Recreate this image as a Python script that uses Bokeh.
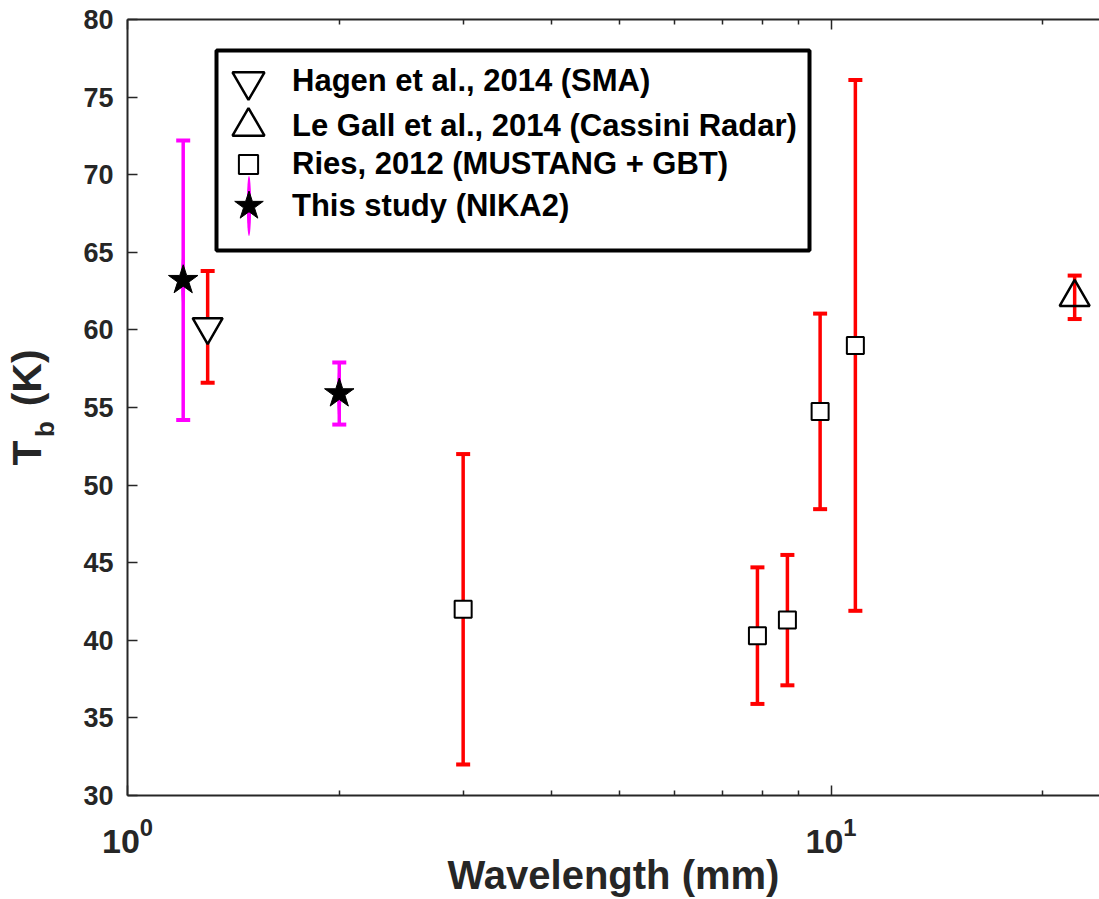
import math
from bokeh.plotting import figure
from bokeh.models import (FixedTicker, LogAxis, LinearAxis, Whisker, TeeHead, ColumnDataSource,
                          Legend, LegendItem, Range1d, BoxAnnotation)
from bokeh.embed import file_html
from bokeh.resources import INLINE

# ---------------- data ----------------
nika_wl = [1.2, 2.0]
nika_tb = [63.2, 55.9]
nika_err = [9.0, 2.0]

hagen_wl = [1.3]
hagen_tb = [60.2]
hagen_err = [3.6]

legall_wl = [22.2]
legall_tb = [62.1]
legall_err = [1.4]

ries_wl = [3.0, 7.86, 8.67, 9.65, 10.83]
ries_tb = [42.0, 40.3, 41.3, 54.75, 59.0]
ries_err = [10.0, 4.4, 4.2, 6.3, 17.1]

legend_labels = ["Hagen et al., 2014 (SMA)",
                 "Le Gall et al., 2014 (Cassini Radar)",
                 "Ries, 2012 (MUSTANG + GBT)",
                 "This study (NIKA2)"]

x_major_ticks = [1, 10]
x_minor_ticks = [2, 3, 4, 5, 6, 7, 8, 9, 20]
y_ticks = [30, 35, 40, 45, 50, 55, 60, 65, 70, 75, 80]

FONT = "Liberation Sans"
AX = "#262626"
NB = "\u00a0"

p = figure(width=1099, height=899, x_axis_type="log",
           x_range=Range1d(1, 24.08), y_range=Range1d(30, 80),
           output_backend="svg", toolbar_location=None,
           min_border_left=125, min_border_right=0,
           min_border_top=19, min_border_bottom=104)
p.outline_line_color = None
p.grid.visible = False
p.background_fill_color = "white"
p.border_fill_color = "white"

# axes
xa = p.xaxis[0]
xa.ticker = FixedTicker(ticks=x_major_ticks, minor_ticks=x_minor_ticks)
ya = p.yaxis[0]
ya.ticker = FixedTicker(ticks=y_ticks, minor_ticks=[])
for ax in (xa, ya):
    ax.axis_line_color = AX
    ax.axis_line_width = 2
    ax.major_tick_line_color = AX
    ax.minor_tick_line_color = AX
    ax.major_tick_line_width = 1.5
    ax.minor_tick_line_width = 1.5
    ax.major_tick_in = 10
    ax.major_tick_out = 0
    ax.minor_tick_in = 5
    ax.minor_tick_out = 0
    ax.major_label_text_font = FONT
    ax.major_label_text_font_style = "bold"
    ax.major_label_text_color = AX
    ax.axis_label_text_font = FONT
    ax.axis_label_text_font_style = "bold"
    ax.axis_label_text_color = AX
ya.major_label_text_font_size = "27px"
xa.major_label_text_font_size = "34px"
xa.major_label_standoff = 22
ya.major_label_standoff = 14

xa.axis_label = "Wavelength (mm)"
xa.axis_label_text_font_size = "40px"
xa.axis_label_standoff = -3

# subscript "b" of the y title sits closest to the axis
ya.axis_label = "b" + NB * 6
ya.axis_label_text_font_size = "26px"
ya.axis_label_standoff = 20

# outer holder for "T ... (K)"
ty = LinearAxis(ticker=FixedTicker(ticks=[], minor_ticks=[]),
                axis_line_color=None, major_tick_line_color=None,
                minor_tick_line_color=None, major_label_standoff=0,
                axis_label="T" + NB * 3 + "(K)", axis_label_standoff=-22,
                axis_label_text_font=FONT, axis_label_text_font_style="bold",
                axis_label_text_font_size="41px", axis_label_text_color=AX)
p.add_layout(ty, "left")

top = LogAxis(ticker=FixedTicker(ticks=x_major_ticks, minor_ticks=x_minor_ticks),
              major_label_overrides={1: "", 10: ""},
              major_label_text_font_size="1px", major_label_standoff=0,
              major_tick_in=10, major_tick_out=0, minor_tick_in=5, minor_tick_out=0,
              axis_line_color=AX, axis_line_width=2,
              major_tick_line_color=AX, minor_tick_line_color=AX,
              major_tick_line_width=1.5, minor_tick_line_width=1.5)
p.add_layout(top, "above")

# error bars
def add_errors(wl, tb, err, color):
    src = ColumnDataSource(dict(x=wl,
                                lower=[t - e for t, e in zip(tb, err)],
                                upper=[t + e for t, e in zip(tb, err)]))
    w = Whisker(base="x", lower="lower", upper="upper", source=src, dimension="height",
                line_color=color, line_width=3.5,
                upper_head=TeeHead(size=14, line_color=color, line_width=4),
                lower_head=TeeHead(size=14, line_color=color, line_width=4))
    p.add_layout(w)

add_errors(ries_wl, ries_tb, ries_err, "red")
add_errors(hagen_wl, hagen_tb, hagen_err, "red")
add_errors(legall_wl, legall_tb, legall_err, "red")
add_errors(nika_wl, nika_tb, nika_err, "magenta")

# markers
r_hagen = p.scatter(hagen_wl, hagen_tb, marker="inverted_triangle", size=30,
                    fill_color="white", line_color="black", line_width=2.5)
r_legall = p.scatter(legall_wl, legall_tb, marker="triangle", size=30,
                     fill_color=None, line_color="black", line_width=2.5)
r_ries = p.scatter(ries_wl, ries_tb, marker="square", size=17,
                   fill_color="white", line_color="black", line_width=2)
# thin vertical magenta bar (sits on the error bar; gives the legend its "I" mark)
r_nika_bar = p.ellipse(x=nika_wl, y=nika_tb, width=4, height=56,
                       width_units="screen", height_units="screen",
                       fill_color="magenta", line_color=None)
r_nika = p.scatter(nika_wl, nika_tb, marker="star", size=31,
                   fill_color="black", line_color="black", line_width=1)

# legend frame
p.add_layout(BoxAnnotation(left=89, right=682, top=745, bottom=545,
                           left_units="screen", right_units="screen",
                           top_units="screen", bottom_units="screen",
                           fill_color="white", fill_alpha=1.0,
                           line_color="black", line_width=4, line_alpha=1.0))

# one legend per row so each symbol gets its own size
rows = [(legend_labels[0], [r_hagen], 80, 81),
        (legend_labels[1], [r_legall], 80, 126),
        (legend_labels[2], [r_ries], 48, 164),
        (legend_labels[3], [r_nika_bar, r_nika], 75, 205)]
for label, rends, g, yc in rows:
    left = 246 - g / 2
    lg = Legend(items=[LegendItem(label=label, renderers=rends)],
                location=(int(round(left - 125)), int(round(795 - (yc + g / 2)))),
                padding=0, margin=0, spacing=0,
                glyph_width=g, glyph_height=g, label_height=g,
                label_standoff=int(round(44 - g / 2)),
                border_line_color=None, background_fill_alpha=0.0,
                label_text_font=FONT, label_text_font_style="bold",
                label_text_font_size="31px", label_text_color="black",
                label_text_baseline="middle")
    p.add_layout(lg)

open("out.html", "w").write(file_html(p, INLINE))
